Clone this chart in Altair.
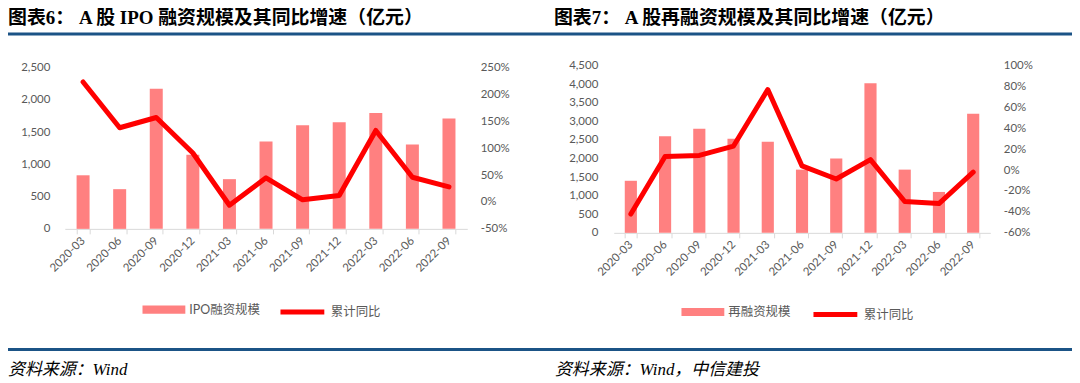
import altair as alt
import pandas as pd

periods = ["2020-03", "2020-06", "2020-09", "2020-12", "2021-03", "2021-06",
           "2021-09", "2021-12", "2022-03", "2022-06", "2022-09"]

ipo_amount = [830, 615, 2170, 1150, 770, 1355, 1605, 1650, 1795, 1305, 1710]
ipo_yoy = [2.23, 1.38, 1.57, 0.91, -0.06, 0.45, 0.04, 0.12, 1.33, 0.46, 0.28]

refi_amount = [1400, 2600, 2800, 2530, 2450, 1700, 2000, 4020, 1700, 1100, 3200]
refi_yoy = [-0.42, 0.13, 0.14, 0.23, 0.77, 0.04, -0.085, 0.10, -0.30, -0.32, -0.02]

ipo_left_ticks = [0, 500, 1000, 1500, 2000, 2500]
ipo_right_ticks = [-0.5, 0, 0.5, 1.0, 1.5, 2.0, 2.5]
refi_left_ticks = [0, 500, 1000, 1500, 2000, 2500, 3000, 3500, 4000, 4500]
refi_right_ticks = [-0.6, -0.4, -0.2, 0, 0.2, 0.4, 0.6, 0.8, 1.0]

BAR_COLOR = "#FF8080"
LINE_COLOR = "#FF0000"
RULE_COLOR = "#1B5386"
GRAY = "#595959"
AXIS_FONT = "Lato, 'Noto Sans CJK SC'"
TITLE_FONT = "'Liberation Serif', 'Noto Sans CJK SC'"
LINE_NAME = "累计同比"
OY = 64  # shared plot origin (row alignment)


def panel(amount, yoy, bar_name, left_ticks, right_ticks, width, height, top_extra,
          ox, title, source, rule_left, rule_right, title_x, source_x,
          bar_legend_x, line_legend_x, legend_cy, left_pad):
    oy = OY
    # the tick range occupies (height - top_extra) px; extend domains so the top
    # tick sits top_extra px below the top of the plot area
    frac = height / (height - top_extra)
    l_dom = [left_ticks[0], left_ticks[0] + (left_ticks[-1] - left_ticks[0]) * frac]
    r_dom = [right_ticks[0], right_ticks[0] + (right_ticks[-1] - right_ticks[0]) * frac]
    df = pd.DataFrame({"period": periods, "amount": amount, "yoy": yoy,
                       "bs": [bar_name] * len(periods),
                       "ls": [LINE_NAME] * len(periods)})
    base = alt.Chart(df)
    xenc = alt.X("period:N", sort=periods, title=None,
                 scale=alt.Scale(paddingInner=0.645, paddingOuter=0.3225),
                 axis=alt.Axis(labelAngle=-45, labelAlign="right", labelBaseline="middle",
                               labelColor=GRAY, labelFont=AXIS_FONT, labelFontSize=11.5,
                               labelPadding=5, tickSize=5, tickColor="#D9D9D9",
                               tickBand="extent", domainColor="#D9D9D9", grid=False))
    bars = base.mark_bar().encode(
        x=xenc,
        y=alt.Y("amount:Q", title=None,
                scale=alt.Scale(domain=l_dom, nice=False),
                axis=alt.Axis(orient="left", values=left_ticks, format=",.0f", domain=False,
                              ticks=False, grid=False, labelColor=GRAY, labelFont=AXIS_FONT,
                              labelFontSize=11.5, labelPadding=left_pad)),
        color=alt.Color("bs:N", scale=alt.Scale(domain=[bar_name], range=[BAR_COLOR]),
                        legend=alt.Legend(orient="none", legendX=bar_legend_x - ox,
                                          legendY=legend_cy - oy - 21.5, title=None,
                                          symbolType="M-1,-0.19H1V0.19H-1Z", symbolSize=1849,
                                          symbolStrokeWidth=0, labelOffset=4, padding=0,
                                          labelFont=AXIS_FONT, labelFontSize=12.5,
                                          labelColor=GRAY)),
    )
    line = base.mark_line(strokeWidth=5, strokeJoin="round", strokeCap="round").encode(
        x=xenc,
        y=alt.Y("yoy:Q", title=None,
                scale=alt.Scale(domain=r_dom, nice=False),
                axis=alt.Axis(orient="right", values=right_ticks,
                              labelExpr="round(datum.value * 100) + '%'", domain=False,
                              ticks=False, grid=False, labelColor=GRAY, labelFont=AXIS_FONT,
                              labelFontSize=11.5, labelPadding=13)),
        stroke=alt.Stroke("ls:N", scale=alt.Scale(domain=[LINE_NAME], range=[LINE_COLOR]),
                          legend=alt.Legend(orient="none", legendX=line_legend_x - ox,
                                            legendY=legend_cy - oy - 22, title=None,
                                            symbolType="stroke", symbolSize=1936,
                                            symbolStrokeWidth=5, labelOffset=4, padding=0,
                                            labelFont=AXIS_FONT, labelFontSize=12.5,
                                            labelColor=GRAY)),
    )
    one = pd.DataFrame({"k": [0]})
    title_mark = alt.Chart(one).mark_text(
        text=title, align="left", baseline="top", font=TITLE_FONT, fontSize=19,
        fontWeight="bold", color="#000000").encode(
        x=alt.value(title_x - ox), y=alt.value(7 - oy))
    top_rule = alt.Chart(one).mark_rect(color=RULE_COLOR).encode(
        x=alt.value(rule_left - ox), x2=alt.value(rule_right - ox),
        y=alt.value(31 - oy), y2=alt.value(34 - oy))
    bottom_rule = alt.Chart(one).mark_rect(color=RULE_COLOR).encode(
        x=alt.value(rule_left - ox), x2=alt.value(rule_right - ox),
        y=alt.value(347.5 - oy), y2=alt.value(350.5 - oy))
    source_mark = alt.Chart(one).mark_text(
        text=source, align="left", baseline="alphabetic", font=TITLE_FONT, fontSize=17,
        fontStyle="italic", color="#000000").encode(
        x=alt.value(source_x - ox), y=alt.value(375 - oy))
    return alt.layer(bars, line, title_mark, top_rule, bottom_rule, source_mark).resolve_scale(
        y="independent").properties(width=width, height=height)


p1 = panel(ipo_amount, ipo_yoy, "IPO融资规模", ipo_left_ticks, ipo_right_ticks,
           404, 164, 2, 65, "图表6： A 股 IPO 融资规模及其同比增速（亿元）", "资料来源：Wind",
           8, 540, 8, 8, 143, 279, 309, 15)
p2 = panel(refi_amount, refi_yoy, "再融资规模", refi_left_ticks, refi_right_ticks,
           378, 168, 0, 616, "图表7： A 股再融资规模及其同比增速（亿元）", "资料来源：Wind，中信建投",
           540, 1076, 556, 557, 684, 814, 311.5, 16)

chart = alt.hconcat(p1, p2, spacing=0).resolve_scale(
    color="independent", stroke="independent").resolve_legend(
    color="independent", stroke="independent").properties(padding=0).configure_view(stroke=None)

chart.save("out.html", embed_options={"renderer": "svg", "actions": False})
